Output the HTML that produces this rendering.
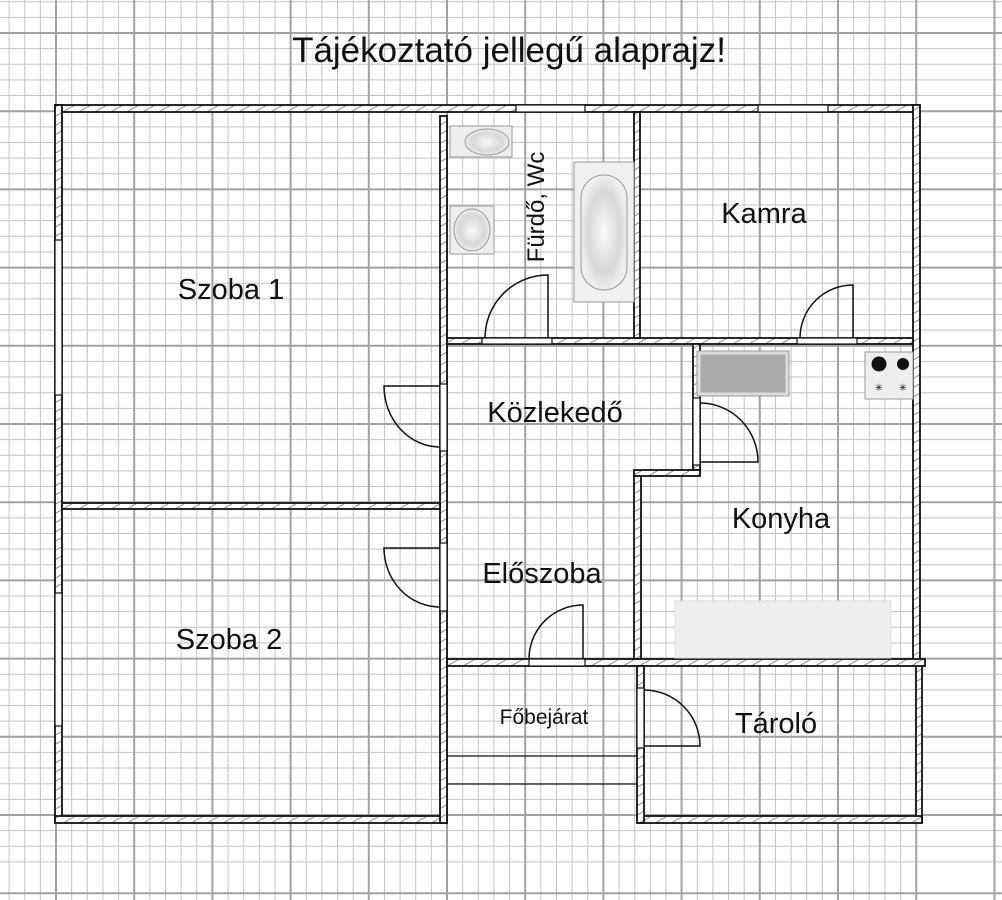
<!DOCTYPE html>
<html><head><meta charset="utf-8"><style>
html,body{margin:0;padding:0;background:#fff;}
svg{display:block;}
text{font-family:"Liberation Sans",sans-serif;fill:#111;}
</style></head><body>
<svg width="1002" height="900" viewBox="0 0 1002 900" xmlns="http://www.w3.org/2000/svg">
<defs>
<pattern id="hatch" width="8" height="8" patternUnits="userSpaceOnUse" patternTransform="rotate(60)">
<rect width="8" height="8" fill="#fff"/>
<line x1="0" y1="0" x2="0" y2="8" stroke="#555" stroke-width="1.3"/>
</pattern>
<radialGradient id="porc" cx="50%" cy="50%" r="50%">
<stop offset="0" stop-color="#fafafa"/><stop offset="0.7" stop-color="#d8d8d8"/><stop offset="1" stop-color="#eee"/>
</radialGradient>
</defs>
<rect width="1002" height="900" fill="#fff"/>
<path fill="none" stroke="#c4c4c4" stroke-width="1" d="M9.1 0v900m15.64 -900v900m15.64 -900v900m15.64 -900v900m15.64 -900v900m15.64 -900v900m15.64 -900v900m15.64 -900v900m15.64 -900v900m15.64 -900v900m15.64 -900v900m15.64 -900v900m15.64 -900v900m15.64 -900v900m15.64 -900v900m15.64 -900v900m15.64 -900v900m15.64 -900v900m15.64 -900v900m15.64 -900v900m15.64 -900v900m15.64 -900v900m15.64 -900v900m15.64 -900v900m15.64 -900v900m15.64 -900v900m15.64 -900v900m15.64 -900v900m15.64 -900v900m15.64 -900v900m15.64 -900v900m15.64 -900v900m15.64 -900v900m15.64 -900v900m15.64 -900v900m15.64 -900v900m15.64 -900v900m15.64 -900v900m15.64 -900v900m15.64 -900v900m15.64 -900v900m15.64 -900v900m15.64 -900v900m15.64 -900v900m15.64 -900v900m15.64 -900v900m15.64 -900v900m15.64 -900v900m15.64 -900v900m15.64 -900v900m15.64 -900v900m15.64 -900v900m15.64 -900v900m15.64 -900v900m15.64 -900v900m15.64 -900v900m15.64 -900v900m15.64 -900v900m15.64 -900v900"/>
<path fill="none" stroke="#c4c4c4" stroke-width="1" d="M0 1.7h1002m-1002 15.64h1002m-1002 15.64h1002m-1002 15.64h1002m-1002 15.64h1002m-1002 15.64h1002m-1002 15.64h1002m-1002 15.64h1002m-1002 15.64h1002m-1002 15.64h1002m-1002 15.64h1002m-1002 15.64h1002m-1002 15.64h1002m-1002 15.64h1002m-1002 15.64h1002m-1002 15.64h1002m-1002 15.64h1002m-1002 15.64h1002m-1002 15.64h1002m-1002 15.64h1002m-1002 15.64h1002m-1002 15.64h1002m-1002 15.64h1002m-1002 15.64h1002m-1002 15.64h1002m-1002 15.64h1002m-1002 15.64h1002m-1002 15.64h1002m-1002 15.64h1002m-1002 15.64h1002m-1002 15.64h1002m-1002 15.64h1002m-1002 15.64h1002m-1002 15.64h1002m-1002 15.64h1002m-1002 15.64h1002m-1002 15.64h1002m-1002 15.64h1002m-1002 15.64h1002m-1002 15.64h1002m-1002 15.64h1002m-1002 15.64h1002m-1002 15.64h1002m-1002 15.64h1002m-1002 15.64h1002m-1002 15.64h1002m-1002 15.64h1002m-1002 15.64h1002m-1002 15.64h1002m-1002 15.64h1002m-1002 15.64h1002m-1002 15.64h1002m-1002 15.64h1002m-1002 15.64h1002m-1002 15.64h1002m-1002 15.64h1002"/>
<path fill="none" stroke="#a2a2a2" stroke-width="2" d="M56 0v900M134.2 0v900M212.4 0v900M290.6 0v900M368.8 0v900M447 0v900M525.2 0v900M603.4 0v900M681.6 0v900M759.8 0v900M838 0v900M916.2 0v900M994.4 0v900M0 33h1002M0 111.2h1002M0 189.4h1002M0 267.6h1002M0 345.8h1002M0 424h1002M0 502.2h1002M0 580.4h1002M0 658.6h1002M0 736.8h1002M0 815h1002M0 893.2h1002"/>

<text x="509" y="62" font-size="35" text-anchor="middle">Tájékoztató jellegű alaprajz!</text>

<g fill="url(#hatch)" stroke="#111" stroke-width="1.8">
<rect x="55" y="105" width="864" height="7"/>
<rect x="55" y="105" width="7" height="717"/>
<rect x="913" y="105" width="7" height="556"/>
<rect x="916" y="661" width="6" height="161"/>
<rect x="55" y="816" width="392" height="7"/>
<rect x="638" y="816" width="284" height="7"/>
<rect x="440" y="116" width="7" height="707"/>
<rect x="62" y="503" width="378" height="6"/>
<rect x="447" y="338" width="466" height="6"/>
<rect x="634" y="112" width="6" height="226"/>
<rect x="693" y="344" width="7" height="126"/>
<rect x="634" y="470" width="66" height="6"/>
<rect x="634" y="476" width="7" height="183"/>
<rect x="447" y="659" width="478" height="7"/>
<rect x="637" y="666" width="7" height="157"/>
</g>
<g fill="#fff" stroke="#111" stroke-width="1.2">
<rect x="516" y="105" width="69" height="7"/>
<rect x="758" y="105" width="70" height="7"/>
<rect x="55" y="240" width="7" height="155"/>
<rect x="55" y="593" width="7" height="133"/>
<rect x="440" y="384" width="7" height="67"/>
<rect x="440" y="543" width="7" height="68"/>
<rect x="482" y="338" width="70" height="6"/>
<rect x="797" y="338" width="60" height="6"/>
<rect x="693" y="398" width="7" height="67"/>
<rect x="529" y="659" width="56" height="7"/>
<rect x="637" y="688" width="7" height="60"/>
</g>
<g fill="none" stroke="#111" stroke-width="1.5">
<path d="M440 386 H384 A56 61 0 0 0 440 447"/>
<path d="M440 548 H384 A56 59 0 0 0 440 607"/>
<path d="M548 338 V275 A63 63 0 0 0 485 338"/>
<path d="M853 338 V285 A53 53 0 0 0 800 338"/>
<path d="M700 403 A58 59 0 0 1 758 462 H700"/>
<path d="M583 659 V605 A54 54 0 0 0 529 659"/>
<path d="M644 690 A56 56 0 0 1 700 746 H644"/>
<path d="M447 756 H637 M447 784 H637" stroke-width="1.3"/>
</g>
<g stroke="#999" stroke-width="1">
<rect x="450" y="126" width="62" height="31" fill="#eee"/>
<ellipse cx="487" cy="142" rx="22" ry="13" fill="url(#porc)"/>
<rect x="450" y="206" width="44" height="48" fill="#eee"/>
<ellipse cx="472" cy="230" rx="18" ry="21" fill="url(#porc)"/>
<rect x="574" y="162" width="60" height="140" fill="#f0f0f0"/>
<rect x="581" y="175" width="46" height="115" rx="23" fill="url(#porc)"/>
<rect x="697" y="351" width="92" height="45" fill="#ddd"/>
<rect x="701" y="355" width="84" height="37" fill="#aaa" stroke="#aaa"/>
<rect x="865" y="352" width="48" height="47" fill="#eee"/>
<rect x="675" y="601" width="216" height="57" fill="#efefef" stroke="#ddd"/>
</g>
<circle cx="879" cy="364" r="7.5" fill="#111"/>
<circle cx="903" cy="364" r="6" fill="#111"/>
<text x="879" y="391" font-size="10" text-anchor="middle" fill="#777">✳</text>
<text x="903" y="391" font-size="10" text-anchor="middle" fill="#777">✳</text>

<g font-size="29" text-anchor="middle">
<text x="231" y="299">Szoba 1</text>
<text x="229" y="649">Szoba 2</text>
<text x="764" y="223">Kamra</text>
<text x="555" y="422">Közlekedő</text>
<text x="542" y="583">Előszoba</text>
<text x="781" y="528">Konyha</text>
<text x="776" y="733">Tároló</text>
</g>
<text x="544" y="724" font-size="21" text-anchor="middle">Főbejárat</text>
<text x="0" y="0" font-size="24" text-anchor="middle" transform="translate(544,207) rotate(-90)">Fürdő, Wc</text>
</svg>
</body></html>
